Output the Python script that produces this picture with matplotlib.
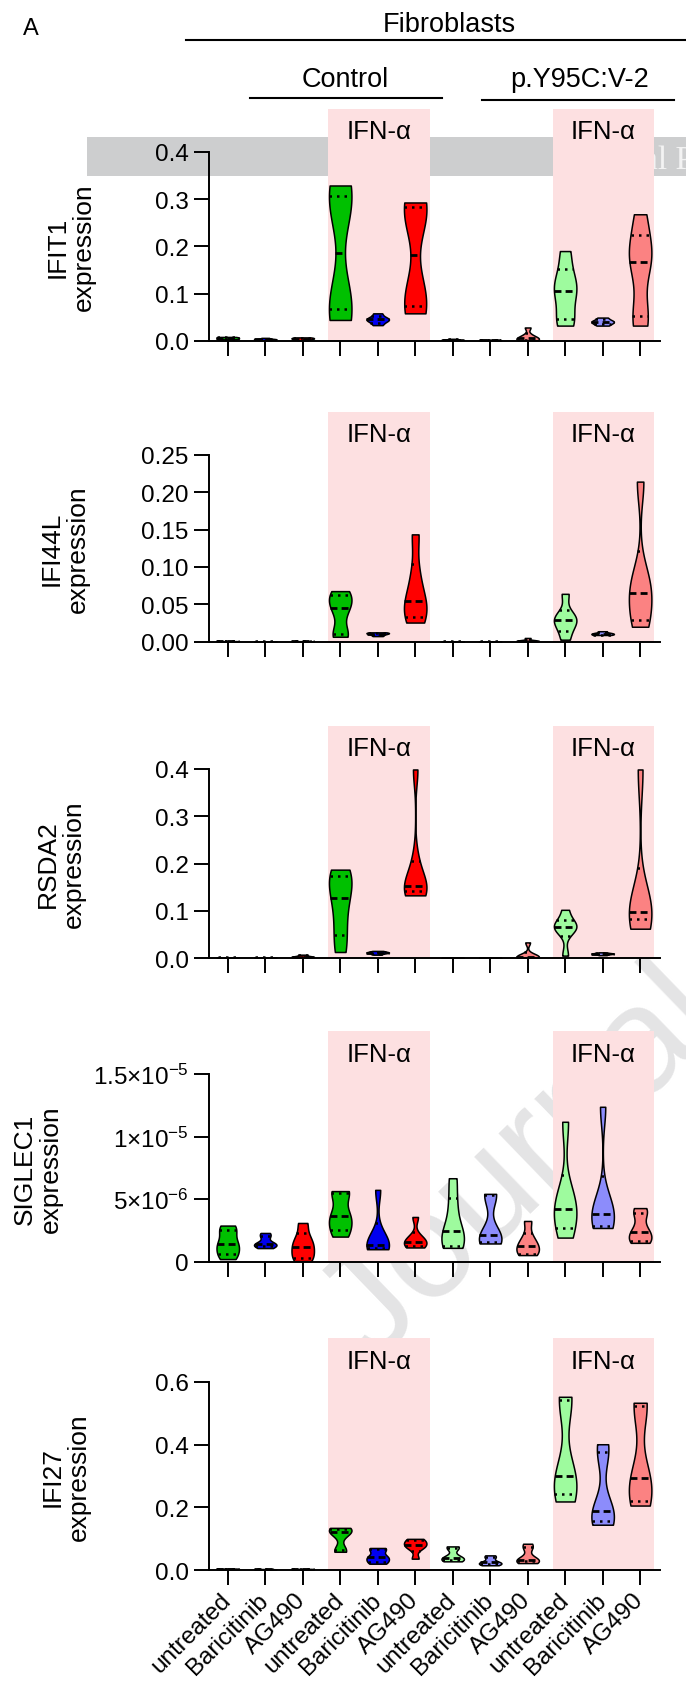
import numpy as np
import matplotlib
matplotlib.use('Agg')
import matplotlib.pyplot as plt
from matplotlib.patches import Rectangle
from matplotlib.transforms import blended_transform_factory

plt.rcParams['font.family'] = ['Liberation Sans', 'DejaVu Sans']
plt.rcParams['mathtext.fontset'] = 'custom'
plt.rcParams['mathtext.rm'] = 'Liberation Sans'
plt.rcParams['mathtext.default'] = 'regular'

W, H = 686, 1699

# 12 groups: Control (-/+ IFN-a) then p.Y95C:V-2 (-/+ IFN-a)
treatments = ['untreated', 'Baricitinib', 'AG490'] * 4
colors = ['#00c000', '#0000f0', '#ff0000'] * 2 + ['#9efb9e', '#8c8cfb', '#fb8282'] * 2

# replicate values
ifit1 = [
    [0.003, 0.004, 0.005, 0.006, 0.007, 0.008],
    [0.001, 0.002, 0.003, 0.003, 0.004, 0.006],
    [0.001, 0.003, 0.004, 0.005, 0.006, 0.007],
    [0.044, 0.075, 0.08, 0.29, 0.30, 0.329],
    [0.033, 0.04, 0.044, 0.046, 0.05, 0.058],
    [0.058, 0.078, 0.10, 0.265, 0.28, 0.293],
    [0.001, 0.0015, 0.002, 0.002, 0.003, 0.004],
    [0.0005, 0.001, 0.001, 0.0015, 0.002, 0.002],
    [0.001, 0.002, 0.004, 0.006, 0.012, 0.028],
    [0.032, 0.05, 0.10, 0.11, 0.14, 0.19],
    [0.032, 0.036, 0.039, 0.041, 0.044, 0.049],
    [0.032, 0.06, 0.16, 0.175, 0.21, 0.268],
]
ifi44l = [
    [0.0003, 0.0004, 0.0005, 0.0006, 0.0007, 0.0008],
    [0.0001, 0.0001, 0.0002, 0.0002, 0.0003, 0.0003],
    [0.0003, 0.0004, 0.0005, 0.0005, 0.0006, 0.0007],
    [0.0066, 0.012, 0.04, 0.051, 0.06, 0.0676],
    [0.0075, 0.009, 0.0105, 0.011, 0.012, 0.0125],
    [0.0256, 0.035, 0.05, 0.058, 0.09, 0.1435],
    [0.0001, 0.0002, 0.0002, 0.0003, 0.0003, 0.0004],
    [0.0001, 0.0002, 0.0002, 0.0003, 0.0003, 0.0004],
    [0.0002, 0.0005, 0.001, 0.0015, 0.002, 0.005],
    [0.0027, 0.018, 0.027, 0.031, 0.036, 0.064],
    [0.009, 0.0095, 0.0105, 0.011, 0.012, 0.014],
    [0.02, 0.032, 0.06, 0.07, 0.09, 0.214],
]
rsda2 = [
    [0.0003, 0.0005, 0.0008, 0.001, 0.0012, 0.0015],
    [0.0003, 0.0006, 0.0008, 0.001, 0.0012, 0.0014],
    [0.001, 0.002, 0.003, 0.003, 0.005, 0.007],
    [0.0127, 0.06, 0.11, 0.145, 0.17, 0.187],
    [0.007, 0.01, 0.011, 0.012, 0.013, 0.015],
    [0.1326, 0.142, 0.148, 0.152, 0.156, 0.205, 0.399],
    [0.0002, 0.0003, 0.0004, 0.0005, 0.0006, 0.0008],
    [0.0001, 0.0001, 0.0002, 0.0002, 0.0003, 0.0003],
    [0.0005, 0.001, 0.002, 0.003, 0.006, 0.033],
    [0.005, 0.06, 0.065, 0.068, 0.072, 0.102],
    [0.006, 0.008, 0.009, 0.0095, 0.01, 0.012],
    [0.062, 0.09, 0.095, 0.1, 0.12, 0.399],
]
# SIGLEC1 in units of 1e-6
siglec1 = [
    [0.21, 0.7, 1.2, 1.6, 2.4, 2.89],
    [1.09, 1.3, 1.4, 1.45, 2.0, 2.3],
    [0.05, 0.4, 1.0, 1.4, 2.0, 3.1],
    [2.01, 2.7, 3.4, 3.9, 5.5, 5.65],
    [1.0, 1.1, 1.25, 1.4, 2.2, 5.75],
    [1.14, 1.3, 1.5, 1.7, 2.0, 3.58],
    [1.11, 1.3, 2.2, 2.7, 4.6, 6.68],
    [1.46, 1.6, 2.0, 2.25, 5.3, 5.43],
    [0.53, 0.66, 1.2, 1.35, 2.0, 3.26],
    [1.93, 3.0, 4.1, 4.4, 5.5, 11.2],
    [2.7, 2.86, 3.7, 4.0, 5.0, 12.4],
    [1.51, 1.7, 2.2, 2.6, 3.8, 4.29],
]
ifi27 = [
    [0.003, 0.0035, 0.004, 0.0045, 0.005, 0.0055],
    [0.002, 0.0025, 0.003, 0.003, 0.0035, 0.004],
    [0.002, 0.0025, 0.003, 0.0035, 0.004, 0.0045],
    [0.059, 0.066, 0.118, 0.124, 0.13, 0.135],
    [0.021, 0.028, 0.04, 0.044, 0.065, 0.071],
    [0.037, 0.07, 0.079, 0.083, 0.095, 0.1],
    [0.0285, 0.034, 0.038, 0.042, 0.07, 0.076],
    [0.016, 0.02, 0.024, 0.026, 0.04, 0.0475],
    [0.023, 0.03, 0.033, 0.035, 0.07, 0.0845],
    [0.219, 0.25, 0.29, 0.308, 0.54, 0.552],
    [0.145, 0.16, 0.18, 0.195, 0.37, 0.401],
    [0.206, 0.225, 0.28, 0.305, 0.52, 0.533],
]

panels = [
    dict(name='IFIT1', data=ifit1, scale=1, ylim=0.4, ticks=[0, 0.1, 0.2, 0.3, 0.4],
         labels=['0.0', '0.1', '0.2', '0.3', '0.4'], box=(153, 341.7), labx=71, bw={}),
    dict(name='IFI44L', data=ifi44l, scale=1, ylim=0.25, ticks=[0, 0.05, 0.1, 0.15, 0.2, 0.25],
         labels=['0.00', '0.05', '0.10', '0.15', '0.20', '0.25'], box=(455.7, 642.7), labx=65,
         bw={11: 0.4}),
    dict(name='RSDA2', data=rsda2, scale=1, ylim=0.4, ticks=[0, 0.1, 0.2, 0.3, 0.4],
         labels=['0.0', '0.1', '0.2', '0.3', '0.4'], box=(770, 959), labx=61,
         bw={5: 0.35, 11: 0.45}),
    dict(name='SIGLEC1', data=siglec1, scale=1e-6, ylim=1.5e-5, ticks=[0, 5e-6, 1e-5, 1.5e-5],
         labels=['0', '5×10$^{-6}$', '1×10$^{-5}$', '1.5×10$^{-5}$'], box=(1075.3, 1262.7), labx=38,
         bw={10: 0.4}),
    dict(name='IFI27', data=ifi27, scale=1, ylim=0.6, ticks=[0, 0.2, 0.4, 0.6],
         labels=['0.0', '0.2', '0.4', '0.6'], box=(1382.7, 1571.3), labx=66, bw={}),
]

pink = '#fde0e1'
ifn_spans = [(2.67, 5.40), (8.67, 11.37)]

fig = plt.figure(figsize=(W / 100, H / 100), dpi=100)

# page background bits: grey header band and the diagonal watermark
fig.add_artist(Rectangle((87 / W, 1 - 177 / H), (W - 87) / W, 39 / H,
                         transform=fig.transFigure, color='#cdcecf', lw=0, zorder=-5))
fig.text(569 / W, 1 - 169 / H, 'Journal Pre-proof', family='Liberation Serif', fontsize=24,
         color='#f3f3f3', ha='left', va='baseline', zorder=-4)
fig.text(373 / W, 1 - 1366 / H, 'Journal Pre-proof', fontsize=108, color='#e4e4e5',
         rotation=44, rotation_mode='anchor', ha='left', va='baseline', zorder=-4)

x_left, x_right = 209, 660
pos = np.arange(12)

for k, p in enumerate(panels):
    top, bot = p['box']
    ax = fig.add_axes([x_left / W, 1 - bot / H, (x_right - x_left) / W, (bot - top) / H])
    ax.set_facecolor('none')
    data = [np.array(d) * p['scale'] for d in p['data']]

    trans = blended_transform_factory(ax.transData, ax.transAxes)
    for a, b in ifn_spans:
        ax.add_patch(Rectangle((a, 0), b - a, 1.23, transform=trans, color=pink,
                               lw=0, clip_on=False, zorder=0.5))
        ax.text((a + b) / 2, 1.11, 'IFN-α', transform=trans, ha='center', va='center',
                fontsize=18.5)

    for i in pos:
        vp = ax.violinplot([data[i]], positions=[i], widths=0.6, showextrema=False,
                           bw_method=p['bw'].get(i, 0.5))
        body = vp['bodies'][0]
        body.set_facecolor(colors[i])
        body.set_edgecolor('black')
        body.set_linewidth(1.1)
        body.set_alpha(1)
        body.set_zorder(2)
        verts = body.get_paths()[0].vertices
        right = verts[verts[:, 0] > i]
        order = np.argsort(right[:, 1])
        ys, hw = right[order, 1], right[order, 0] - i
        q1, med, q3 = np.percentile(data[i], [25, 50, 75], method='weibull')
        for q, ls, lw in [(q1, (0, (1, 2)), 1.8), (q3, (0, (1, 2)), 1.8), (med, (0, (2.5, 1.5)), 2.0)]:
            w = np.interp(q, ys, hw)
            ax.plot([i - w, i + w], [q, q], color='black', ls=ls, lw=lw,
                    solid_capstyle='butt', zorder=3)

    ax.set_xlim(-0.5, 11.53)
    ax.set_ylim(0, p['ylim'])
    ax.set_yticks(p['ticks'])
    ax.set_yticklabels(p['labels'])
    ax.set_xticks(pos)
    if k == len(panels) - 1:
        ax.set_xticklabels(treatments, rotation=45, ha='right', va='center',
                           rotation_mode='anchor', fontsize=18.5)
    else:
        ax.set_xticklabels([])
    for s in ['top', 'right']:
        ax.spines[s].set_visible(False)
    for s in ['left', 'bottom']:
        ax.spines[s].set_linewidth(1.4)
    ax.tick_params(axis='both', direction='out', length=11, width=1.4, labelsize=17.5)
    ax.tick_params(axis='x', pad=8)
    ax.text((p['labx'] - x_left) / (x_right - x_left), 0.5, p['name'] + '\nexpression',
            transform=ax.transAxes, rotation=90, ha='center', va='center',
            fontsize=19, linespacing=1.1)

# group headers
fig.text(31 / W, 1 - 29 / H, 'A', fontsize=17, ha='center', va='center')
fig.text(449 / W, 1 - 31.7 / H, 'Fibroblasts', fontsize=19.5, ha='center', va='baseline')
fig.text(345 / W, 1 - 87.3 / H, 'Control', fontsize=19.5, ha='center', va='baseline')
fig.text(580 / W, 1 - 87.3 / H, 'p.Y95C:V-2', fontsize=19.5, ha='center', va='baseline')
for x0, x1, y in [(186, 686, 41), (250, 442, 99.3), (482, 674, 100.7)]:
    fig.add_artist(plt.Line2D([x0 / W, x1 / W], [1 - y / H, 1 - y / H], color='black', lw=1.5))

fig.savefig('out.png', dpi=100)
